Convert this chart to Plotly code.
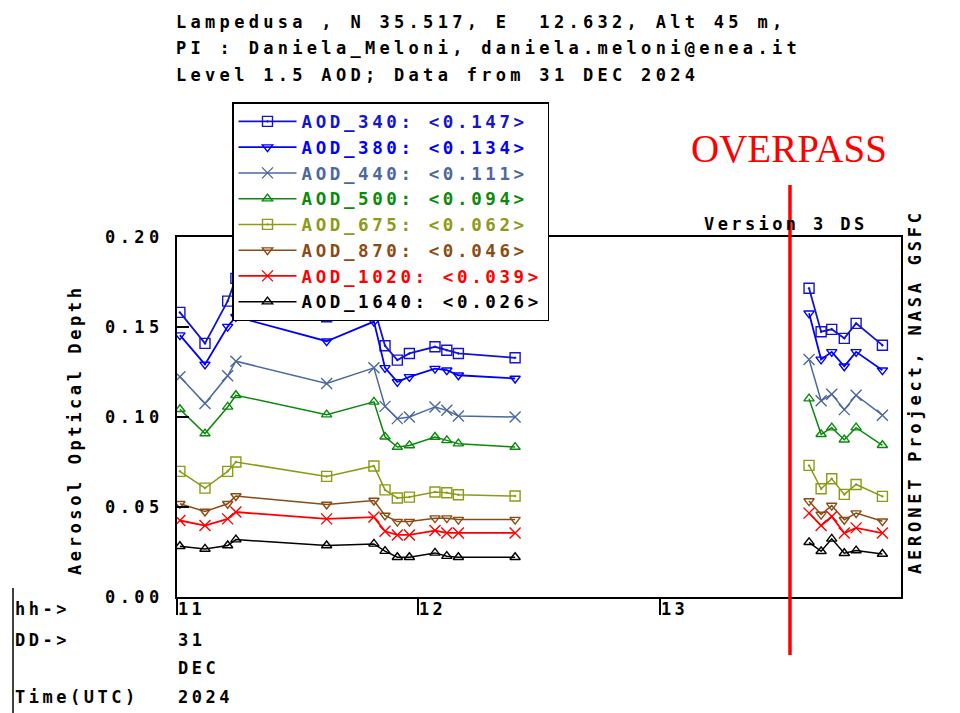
import plotly.graph_objects as go

# ---------------- data ----------------
hours = [11.012, 11.116, 11.210, 11.244, 11.620, 11.816, 11.862, 11.913, 11.963,
         12.069, 12.118, 12.166, 12.401, None,
         13.619, 13.669, 13.713, 13.765, 13.814, 13.923]

aod_340 = [0.1581, 0.1409, 0.1644, 0.1770, 0.1557, 0.1610, 0.1396, 0.1316, 0.1353,
           0.1390, 0.1371, 0.1353, 0.1329, None,
           0.1715, 0.1474, 0.1487, 0.1437, 0.1520, 0.1399]
aod_380 = [0.1455, 0.1292, 0.1502, 0.1557, 0.1421, 0.1530, 0.1273, 0.1195, 0.1223,
           0.1269, 0.1260, 0.1232, 0.1214, None,
           0.1576, 0.1320, 0.1362, 0.1282, 0.1362, 0.1260]
aod_440 = [0.1223, 0.1075, 0.1229, 0.1310, 0.1186, 0.1273, 0.1059, 0.0991, 0.1000,
           0.1056, 0.1037, 0.1006, 0.1000, None,
           0.1320, 0.1090, 0.1127, 0.1041, 0.1121, 0.1010]
aod_500 = [0.1043, 0.0908, 0.1056, 0.1121, 0.1013, 0.1084, 0.0890, 0.0833, 0.0842,
           0.0889, 0.0870, 0.0852, 0.0833, None,
           0.1102, 0.0904, 0.0941, 0.0874, 0.0941, 0.0843]
aod_675 = [0.0698, 0.0605, 0.0698, 0.0750, 0.0670, 0.0728, 0.0595, 0.0550, 0.0555,
           0.0583, 0.0579, 0.0568, 0.0561, None,
           0.0731, 0.0601, 0.0657, 0.0570, 0.0625, 0.0559]
aod_870 = [0.0518, 0.0475, 0.0518, 0.0561, 0.0514, 0.0536, 0.0453, 0.0419, 0.0419,
           0.0438, 0.0438, 0.0430, 0.0430, None,
           0.0533, 0.0458, 0.0508, 0.0429, 0.0466, 0.0421]
aod_1020 = [0.0425, 0.0397, 0.0434, 0.0472, 0.0434, 0.0444, 0.0365, 0.0345, 0.0345,
            0.0369, 0.0356, 0.0356, 0.0356, None,
            0.0466, 0.0397, 0.0447, 0.0355, 0.0384, 0.0355]
aod_1640 = [0.0282, 0.0267, 0.0286, 0.0319, 0.0286, 0.0295, 0.0255, 0.0221, 0.0221,
            0.0245, 0.0227, 0.0221, 0.0221, None,
            0.0304, 0.0254, 0.0323, 0.0243, 0.0258, 0.0239]

series_names = ["AOD_340", "AOD_380", "AOD_440", "AOD_500",
                "AOD_675", "AOD_870", "AOD_1020", "AOD_1640"]
series_means = ["0.147", "0.134", "0.111", "0.094", "0.062", "0.046", "0.039", "0.026"]
series_values = [aod_340, aod_380, aod_440, aod_500, aod_675, aod_870, aod_1020, aod_1640]

x_tick_vals = [11, 12, 13]
x_tick_labels = ["11", "12", "13"]
y_tick_vals = [0.0, 0.05, 0.10, 0.15, 0.20]
y_tick_labels = ["0.00", "0.05", "0.10", "0.15", "0.20"]

overpass_hour = 13.54

title_lines = ["Lampedusa , N 35.517, E\u00a0 12.632, Alt 45 m,",
               "PI : Daniela_Meloni, daniela.meloni@enea.it",
               "Level 1.5 AOD; Data from 31 DEC 2024"]

# ---------------- styles ----------------
colors = ["#1414cc", "#0000ff", "#4b689e", "#0a8a0a",
          "#8c9a16", "#8b4c14", "#ff0000", "#000000"]
symbols = ["square-open-dot", "triangle-down-open", "x-thin-open", "triangle-up-open",
           "square-open-dot", "triangle-down-open", "x-thin-open", "triangle-up-open"]
msizes = [10, 9, 11, 9, 10, 9, 11, 9]
lwidths = [1.8, 1.8, 1.5, 1.5, 1.5, 1.5, 1.8, 1.5]

MONO = "DejaVu Sans Mono"
OFF = 8  # page body margin
W, H = 960 - OFF, 713 - OFF
L, R, T, B = 177 - OFF, 901 - OFF, 237 - OFF, 597 - OFF


def px2x(px):
    return (px - OFF - L) / (R - L)


def px2y(py):
    return (B - (py - OFF)) / (B - T)


def ls(text, sp=3.5, color=None):
    st = f"letter-spacing:{sp}px"
    if color:
        st += f";color:{color}"
    return f'<span style="{st}">{text}</span>'


fig = go.Figure()
for name, mean, vals, c, s, ms, lw in zip(series_names, series_means, series_values,
                                          colors, symbols, msizes, lwidths):
    fig.add_trace(go.Scatter(
        x=hours, y=vals, mode="lines+markers",
        name=ls(f"{name}: &lt;{mean}&gt;", 3.6, c),
        line=dict(color=c, width=lw),
        marker=dict(symbol=s, size=ms, color=c, line=dict(color=c, width=1.4)),
        connectgaps=False,
    ))

font_b = dict(family=MONO, size=17, color="black", weight="bold")

annotations = []
for i, (line, py) in enumerate(zip(title_lines, [22, 48, 75])):
    annotations.append(dict(text=ls(line, 4.3), x=px2x(174), y=px2y(py), xref="paper", yref="paper",
                            xanchor="left", yanchor="middle", showarrow=False, font=font_b))
annotations.append(dict(text=ls("Aerosol Optical Depth", 3.6), x=px2x(75), y=px2y(430),
                        xref="paper", yref="paper", textangle=-90, showarrow=False, font=font_b,
                        xanchor="center", yanchor="middle"))
annotations.append(dict(text=ls("AERONET Project, NASA GSFC", 3.8), x=px2x(915), y=px2y(392),
                        xref="paper", yref="paper", textangle=-90, showarrow=False, font=font_b,
                        xanchor="center", yanchor="middle"))
annotations.append(dict(text=ls("Version 3 DS", 3.4), x=px2x(786), y=px2y(224),
                        xref="paper", yref="paper", showarrow=False, font=font_b,
                        xanchor="center", yanchor="middle"))
for xv, lab in zip(x_tick_vals, x_tick_labels):
    annotations.append(dict(text=ls(lab, 3.2), x=xv, y=px2y(609), xref="x", yref="paper",
                            xanchor="left", yanchor="middle", showarrow=False, font=font_b,
                            xshift=-1))
for txt, py in [("hh->", 609), ("DD->", 640), ("Time(UTC)", 697)]:
    annotations.append(dict(text=ls(txt, 3.5), x=px2x(13), y=px2y(py), xref="paper", yref="paper",
                            xanchor="left", yanchor="middle", showarrow=False, font=font_b))
for txt, py in [("31", 640), ("DEC", 668), ("2024", 697)]:
    annotations.append(dict(text=ls(txt, 3.5), x=px2x(176), y=px2y(py), xref="paper", yref="paper",
                            xanchor="left", yanchor="middle", showarrow=False, font=font_b))
annotations.append(dict(text="OVERPASS", x=px2x(789), y=px2y(148), xref="paper", yref="paper",
                        xanchor="center", yanchor="middle", showarrow=False,
                        font=dict(family="Liberation Serif", size=39, color="#ff0000")))

shapes = [
    dict(type="line", xref="x", yref="paper", x0=overpass_hour, x1=overpass_hour,
         y0=px2y(655), y1=px2y(185), line=dict(color="#ff0000", width=3.5)),
    dict(type="line", xref="paper", yref="paper", x0=px2x(13), x1=px2x(13),
         y0=px2y(588), y1=px2y(713), line=dict(color="black", width=1.5)),
]

fig.update_layout(
    width=W, height=H,
    margin=dict(l=L, r=W - R, t=T, b=H - B, pad=0),
    paper_bgcolor="white", plot_bgcolor="white",
    showlegend=True,
    legend=dict(x=px2x(232), y=px2y(102), xanchor="left", yanchor="top",
                bgcolor="white", bordercolor="black", borderwidth=1.5,
                font=dict(family=MONO, size=17.5, weight="bold"),
                itemwidth=58, traceorder="normal"),
    xaxis=dict(range=[11, 14], showgrid=False, zeroline=False,
               showline=True, linecolor="black", linewidth=1.5, mirror=True,
               tickvals=x_tick_vals, showticklabels=False,
               ticks="outside", ticklen=16, tickwidth=1.5, tickcolor="black"),
    yaxis=dict(range=[0, 0.2], showgrid=False, zeroline=False,
               showline=True, linecolor="black", linewidth=1.5, mirror=True,
               tickvals=y_tick_vals, ticktext=[ls(t, 4.5) for t in y_tick_labels],
               ticks="inside", ticklen=12, tickwidth=1.5, tickcolor="black",
               ticklabelstandoff=8, tickfont=font_b),
    annotations=annotations,
    shapes=shapes,
)

fig.write_html("out.html")
